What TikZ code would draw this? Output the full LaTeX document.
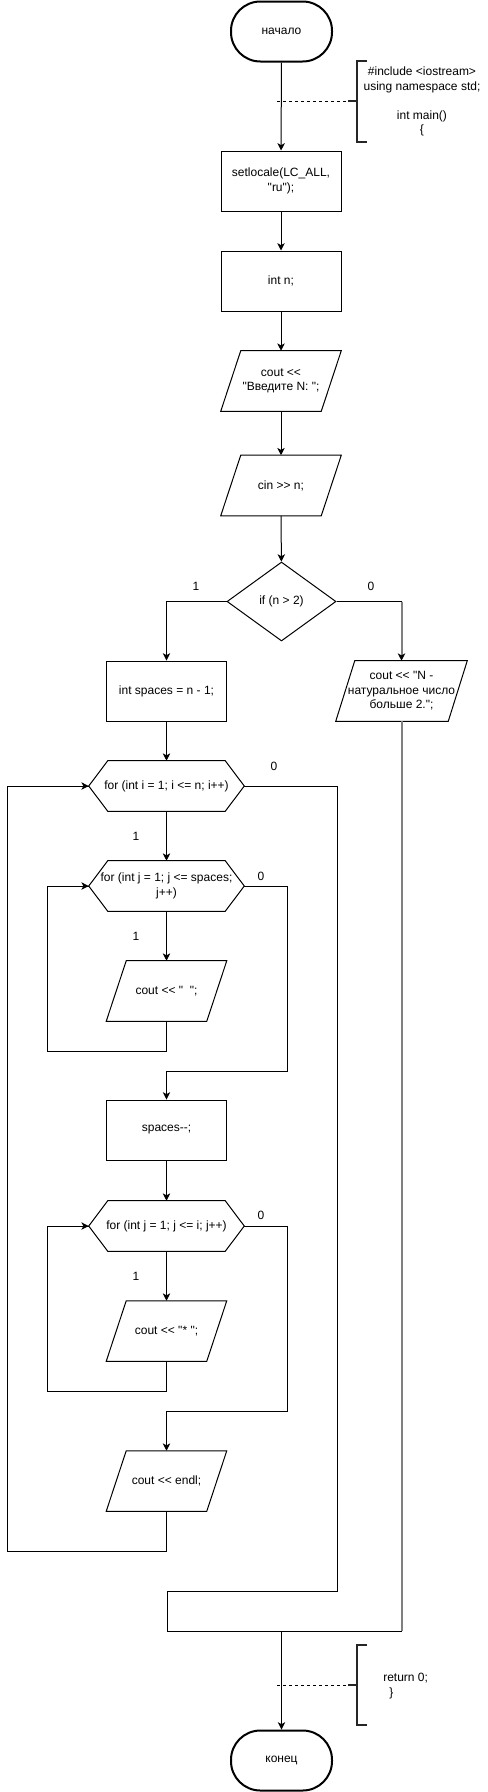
\documentclass[tikz,border=0pt]{standalone}
\usepackage{fontspec}
\setmainfont{Liberation Sans}[Ligatures=TeXOff]
\usetikzlibrary{shapes.geometric,arrows.meta,calc}
\tikzset{
  ln/.style={line width=0.75pt, draw=black},
  arr/.style={ln, -{Stealth[length=5.5pt,width=5.5pt,inset=1.5pt,black]}},
  grayln/.style={line width=1.5pt, draw=black!50},
  proc/.style={draw, line width=0.75pt, minimum width=90pt, minimum height=45pt, inner sep=0pt, align=center},
  term/.style={draw, line width=1.5pt, rounded corners=22pt, minimum width=75.75pt, minimum height=45pt, inner sep=0pt, align=center},
  blank/.style={inner sep=0pt, align=center},
  dec/.style={draw, diamond, line width=0.75pt, minimum width=81.75pt, minimum height=59.25pt, inner sep=0pt, align=center},
  lab/.style={inner sep=0pt},
  brk/.style={line width=1.5pt, draw=black!85},
  dsh/.style={line width=0.6pt, dash pattern=on 2.25pt off 2.25pt},
}
\newcommand\mkio[5]{%
  \node[blank, minimum width=#3, minimum height=45pt] (#1) at (#2) {#5};
  \draw[ln] ($(#1.north west)+(#4,0)$) -- (#1.north east) -- ($(#1.south east)-(#4,0)$) -- (#1.south west) -- cycle;}
\newcommand\mkhex[3]{%
  \node[blank, minimum width=116.25pt, minimum height=37.5pt] (#1) at (#2) {#3};
  \draw[ln] (#1.west) -- ($(#1.north west)+(19,0)$) -- ($(#1.north east)-(19,0)$) -- (#1.east) -- ($(#1.south east)-(19,0)$) -- ($(#1.south west)+(19,0)$) -- cycle;}
\begin{document}
\begin{tikzpicture}[x=0.75pt,y=-0.75pt,font=\fontsize{9}{10.9}\selectfont]
\useasboundingbox[fill=white] (0,0) rectangle (488,1792);

% main column
\node[term] (start) at (281.5,31.5) {начало};
\node[proc] (setl) at (281,181) {setlocale(LC\_ALL,\\"ru");};
\node[proc] (intn) at (281,281) {int n;};
\mkio{cout1}{281,381}{90pt}{20}{cout <<\\"Введите N: ";}
\mkio{cin}{281,485.5}{90pt}{20}{cin >> n;}
\node[dec] (ifn) at (281.5,601.5) {if (n > 2)};

% branches
\node[proc] (sp) at (166.5,691) {int spaces = n - 1;};
\mkio{err}{401.5,691}{98.25pt}{19}{cout << "N -\\натуральное число\\больше 2.";}

\mkhex{fori}{166.5,786}{for (int i = 1; i <= n; i++)}
\mkhex{forj}{166.5,886}{for (int j = 1; j <= spaces;\\j++)}
\mkio{coutsp}{166.5,991}{90pt}{20}{cout << "\ \ ";}
\node[proc] (spm) at (166.5,1130) {spaces--;};
\mkhex{forjj}{166.5,1226}{for (int j = 1; j <= i; j++)}
\mkio{coutst}{166.5,1331}{90pt}{20}{cout << "* ";}
\mkio{endl}{166.5,1481}{90pt}{20}{cout << endl;}

\node[term] (fin) at (281.5,1760.5) {конец};

% coordinates
\coordinate (rc) at (401.5,601.5);
\coordinate (oe1) at (337,1591);
\coordinate (oe2) at (167,1591);
\coordinate (oe3) at (167,1631);
\coordinate (mg) at (281.5,1631);
\coordinate (ge) at (401.5,1631);
\coordinate (l1a) at (166.5,1051);
\coordinate (l1b) at (47,1051);
\coordinate (e1a) at (287,1071);
\coordinate (e1b) at (166.5,1071);
\coordinate (l2a) at (166.5,1391);
\coordinate (l2b) at (47,1391);
\coordinate (e2a) at (287,1411);
\coordinate (e2b) at (166.5,1411);
\coordinate (loa) at (166.5,1551);
\coordinate (lob) at (7,1551);

% connectors
\draw[arr] (start) -- (setl);
\draw[arr] (setl) -- (intn);
\draw[arr] (intn) -- (cout1);
\draw[arr] (cout1) -- (cin);
\draw[arr] (cin) -- (ifn);
\draw[arr] (ifn.west) -| (sp.north);
\draw[ln] (ifn.east) -- (rc);
\draw[grayln] (rc) -- ($(err.north)+(0,-7)$);
\draw[arr, draw=black!50, line width=1.5pt] (rc) -- (err.north);
\draw[arr] (sp) -- (fori);
\draw[arr] (fori) -- (forj);
\draw[arr] (forj) -- (coutsp);
\draw[ln] (coutsp.south) -- (l1a) -- (l1b) |- (forj.west);
\draw[arr] (l1b |- forj.west) -- (forj.west);
\draw[ln] (forj.east) -| (e1a) -- (e1b);
\draw[arr] (e1b) -- (spm.north);
\draw[arr] (spm) -- (forjj);
\draw[arr] (forjj) -- (coutst);
\draw[ln] (coutst.south) -- (l2a) -- (l2b) |- (forjj.west);
\draw[arr] (l2b |- forjj.west) -- (forjj.west);
\draw[ln] (forjj.east) -| (e2a) -- (e2b);
\draw[arr] (e2b) -- (endl.north);
\draw[ln] (endl.south) -- (loa) -- (lob) |- (fori.west);
\draw[arr] (lob |- fori.west) -- (fori.west);
\draw[ln] (fori.east) -| (oe1) -- (oe2) -- (oe3) -- (ge);
\draw[grayln] (err.south) -- (ge);
\draw[arr] (mg) -- (fin.north);

% labels
\node[lab] (l1) at (196,586) {1};
\node[lab] (l0) at (371,586) {0};
\node[lab] (l0i) at (274,766) {0};
\node[lab] (l1i) at (136,836) {1};
\node[lab] (l0j) at (261,876) {0};
\node[lab] (l1j) at (136,936) {1};
\node[lab] (l0jj) at (261,1215) {0};
\node[lab] (l1jj) at (136,1276) {1};

% annotation 1
\draw[brk] (367,61) -- (357,61) -- (357,142) -- (367,142);
\coordinate (b1) at (357,101);
\draw[brk] ($(b1)+(-9,0)$) -- (b1);
\draw[dsh] (277,101) -- ($(b1)+(-9,0)$);
\node[blank] (t1) at (422,101.5) {\#include <iostream>\\using namespace std;\\[10.9pt]int main()\\\{};

% annotation 2
\draw[brk] (367,1645) -- (357,1645) -- (357,1725) -- (367,1725);
\coordinate (b2) at (357,1685);
\draw[brk] ($(b2)+(-9,0)$) -- (b2);
\draw[dsh] (277,1685) -- ($(b2)+(-9,0)$);
\node[blank, align=left, anchor=west] (t2) at (383,1686) {return 0;\\\hspace*{4.5pt}\}};
\end{tikzpicture}
\end{document}
